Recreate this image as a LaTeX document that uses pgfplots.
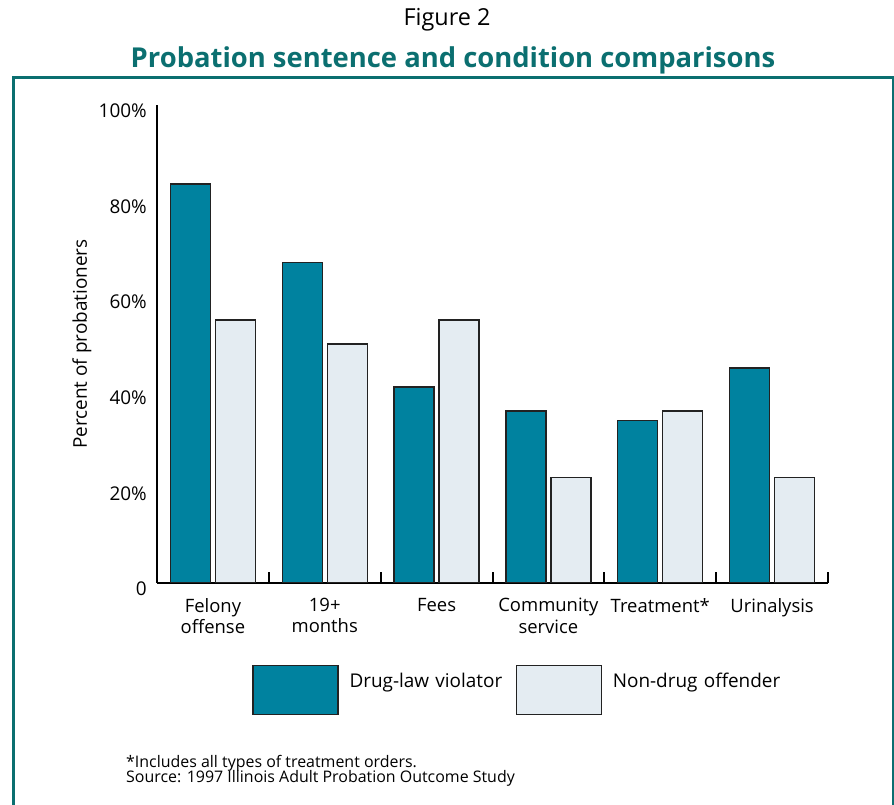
\documentclass[border=0pt]{standalone}
\usepackage{fontspec}
\setmainfont{Open Sans}
\usepackage{pgfplots}
\pgfplotsset{compat=1.18}

\definecolor{drugteal}{HTML}{00829F}
\definecolor{nondrug}{HTML}{E4ECF2}
\definecolor{frameteal}{HTML}{0B6F70}
\definecolor{barline}{HTML}{222222}

\begin{document}
\begin{tikzpicture}
\useasboundingbox (0bp,0bp) rectangle (894bp,805bp);

% frame round the chart
\draw[frameteal, line width=3bp] (13bp,-20bp) -- (13bp,727bp) -- (893bp,727bp) -- (893bp,-20bp);

% titles
\node[font=\fontsize{23.5}{28}\selectfont] at (447bp,785bp) {Figure 2};
\node[font=\fontsize{27.5}{32}\selectfont\bfseries, text=frameteal] at (453bp,745bp)
  {Probation sentence and condition comparisons};

\begin{axis}[
  at={(157bp,222bp)}, anchor=south west,
  scale only axis, width=671bp, height=478bp,
  xmin=0, xmax=6, ymin=0, ymax=100,
  axis x line=bottom, axis y line=left,
  axis line style={-, black, line width=2bp},
  every outer x axis line/.append style={-},
  every outer y axis line/.append style={-},
  ytick={0,20,40,60,80,100},
  yticklabels={0,20\%,40\%,60\%,80\%,100\%},
  major tick length=0pt,
  yticklabel style={font=\fontsize{19}{22}\selectfont, anchor=east, inner sep=0pt, xshift=-10bp, yshift=-6bp},
  xtick={0.5,1.5,2.5,3.5,4.5,5.5},
  xticklabels={{Felony\\offense},{19+\\months},Fees,{Community\\service},Treatment*,Urinalysis},
  minor xtick={1,2,3,4,5,6},
  minor tick length=11bp,
  tick align=inside,
  minor tick style={black, line width=2bp},
  xticklabel style={font=\fontsize{18.5}{21.5}\selectfont, align=center, inner sep=0pt, anchor=north, yshift=-15bp},
  ylabel={Percent of probationers},
  every axis y label/.style={at={(axis description cs:-0.1118,0.5)}, rotate=90, anchor=center, font=\fontsize{19}{22}\selectfont},
  legend columns=2,
  legend style={at={(axis description cs:0.1416,-0.1715)}, anchor=north west,
    draw=none, fill=none, inner sep=0pt, row sep=0pt, column sep=0pt,
    font=\fontsize{19}{22}\selectfont,
    nodes={inner sep=0pt, text width=166bp, align=left}},
  legend image code/.code={%
    \draw[#1] (0bp,-34bp) rectangle (85bp,15bp);
    \path (96bp,0bp);},
]
\addplot[ybar, bar width=40bp, bar shift=-22.5bp, fill=drugteal, draw=barline, line width=1.3bp]
  coordinates {(0.5,83.5) (1.5,67) (2.5,41) (3.5,36) (4.5,34) (5.5,45)};
\addlegendentry{\mbox{Drug-law violator}}
\addplot[ybar, bar width=40bp, bar shift=22.5bp, fill=nondrug, draw=barline, line width=1.3bp]
  coordinates {(0.5,55) (1.5,50) (2.5,55) (3.5,22) (4.5,36) (5.5,22)};
\addlegendentry{\mbox{Non-drug offender}}
\end{axis}

% notes under the chart
\node[anchor=base west, inner sep=0pt, font=\fontsize{16}{18}\selectfont] at (126bp,38bp)
  {*Includes all types of treatment orders.};
\node[anchor=base west, inner sep=0pt, font=\fontsize{16}{18}\selectfont] at (126bp,23bp)
  {Source: 1997 Illinois Adult Probation Outcome Study};
\end{tikzpicture}
\end{document}
